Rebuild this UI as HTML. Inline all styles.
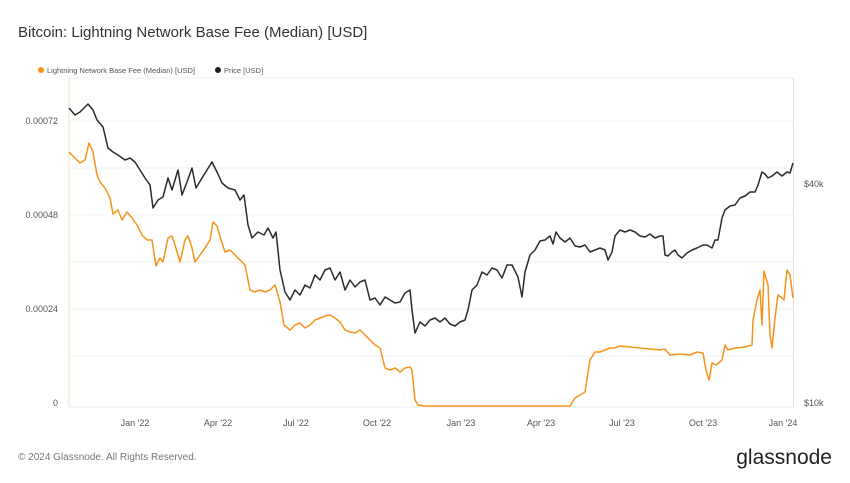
<!DOCTYPE html>
<html><head><meta charset="utf-8"><style>
body{margin:0;background:#fff;font-family:"Liberation Sans",sans-serif}
</style></head><body>
<svg width="850" height="478" xmlns="http://www.w3.org/2000/svg" font-family="Liberation Sans, sans-serif">
<rect width="850" height="478" fill="#fff"/>
<text x="18" y="37" font-size="15" fill="#333">Bitcoin: Lightning Network Base Fee (Median) [USD]</text>
<circle cx="41" cy="70" r="3" fill="#f7931a"/>
<text x="47" y="73" font-size="7.5" fill="#555">Lightning Network Base Fee (Median) [USD]</text>
<circle cx="218" cy="70" r="3" fill="#222"/>
<text x="224" y="73" font-size="7.5" fill="#555">Price [USD]</text>
<g stroke="#f0f0f0" stroke-width="1">
<line x1="69" y1="78" x2="793" y2="78"/>
<line x1="69" y1="121" x2="793" y2="121"/>
<line x1="69" y1="168" x2="793" y2="168"/>
<line x1="69" y1="215" x2="793" y2="215"/>
<line x1="69" y1="262" x2="793" y2="262"/>
<line x1="69" y1="309" x2="793" y2="309"/>
<line x1="69" y1="356" x2="793" y2="356"/>
</g>
<line x1="69" y1="78" x2="69" y2="407" stroke="#fde2c0" stroke-width="1"/>
<line x1="793.5" y1="78" x2="793.5" y2="407" stroke="#ddd" stroke-width="1"/>
<line x1="69" y1="407" x2="793" y2="407" stroke="#eee"/>
<g font-size="9" fill="#555">
<text x="58" y="124" text-anchor="end">0.00072</text>
<text x="58" y="218" text-anchor="end">0.00048</text>
<text x="58" y="312" text-anchor="end">0.00024</text>
<text x="58" y="406" text-anchor="end">0</text>
<text x="804" y="187">$40k</text>
<text x="804" y="406">$10k</text>
<g text-anchor="middle">
<text x="135" y="426">Jan '22</text><text x="218" y="426">Apr '22</text><text x="296" y="426">Jul '22</text>
<text x="377" y="426">Oct '22</text><text x="461" y="426">Jan '23</text><text x="541" y="426">Apr '23</text>
<text x="622" y="426">Jul '23</text><text x="703" y="426">Oct '23</text><text x="783" y="426">Jan '24</text>
</g></g>
<polyline fill="none" stroke="#2b2b2b" stroke-width="1.5" stroke-linejoin="round" points="69,108 75,115 80,112 88,104 93,110 97,120 103,127 108,148 113,152 118,155 125,160 130,158 135,162 140,170 145,178 150,185 153,208 158,200 163,197 168,178 172,190 178,170 182,195 187,182 192,168 196,188 202,178 207,170 212,162 217,172 222,183 228,188 235,190 240,200 244,195 248,225 252,238 258,232 264,235 268,228 273,238 276,232 280,270 285,292 290,300 295,290 300,295 305,285 310,288 315,275 320,280 325,270 330,268 335,280 340,272 345,290 350,280 355,287 360,282 365,280 370,300 375,298 380,305 385,297 390,300 395,303 400,302 405,293 410,290 412,310 415,333 420,322 425,326 430,320 435,318 440,322 445,318 450,324 455,326 460,322 465,320 468,310 472,290 477,285 482,272 487,275 492,268 497,270 502,278 507,265 512,265 518,277 522,297 525,272 530,255 535,250 540,241 545,240 550,236 553,244 556,232 560,238 565,242 570,238 575,246 580,247 585,245 590,252 595,250 600,248 605,250 608,260 612,252 615,236 620,230 625,232 630,230 635,232 640,236 645,237 650,234 655,238 660,236 663,236 665,255 668,256 672,252 675,250 678,255 682,258 687,253 692,250 697,248 703,245 707,245 712,248 715,240 718,240 722,218 725,210 730,206 735,205 740,198 745,196 750,192 755,192 758,185 762,172 765,174 768,178 772,176 777,172 782,176 787,172 790,173 793,163"/>
<polyline fill="none" stroke="#f7931a" stroke-width="1.5" stroke-linejoin="round" points="69,152 75,158 80,163 85,160 89,143 93,152 97,175 100,182 105,188 110,198 113,214 118,210 122,220 127,212 132,218 137,225 142,235 147,240 152,240 156,266 160,258 163,262 168,238 172,236 175,245 180,262 185,240 188,236 192,248 195,262 200,255 205,248 210,240 213,222 217,226 221,240 225,252 230,250 235,255 240,260 245,265 250,290 255,292 260,290 265,292 270,290 275,285 280,302 284,325 290,330 295,325 300,323 305,328 310,325 315,320 320,318 325,316 330,315 335,318 340,322 345,330 350,332 355,333 360,330 365,335 370,340 375,345 380,348 385,368 390,370 395,368 400,372 405,368 410,367 412,370 415,400 418,405 425,406 570,406 575,398 580,395 585,392 590,360 595,352 600,352 605,350 610,348 615,348 620,346 630,347 640,348 650,349 660,350 665,349 670,355 680,354 690,355 697,352 703,353 706,370 709,380 712,363 716,365 722,360 725,345 728,350 735,348 745,347 752,345 753,320 757,300 760,290 762,325 764,271 768,285 770,335 772,348 775,318 778,295 782,298 784,300 787,270 790,275 793,298"/>
<text x="18" y="460" font-size="10" fill="#777">© 2024 Glassnode. All Rights Reserved.</text>
<text x="832" y="464" font-size="21" fill="#222" text-anchor="end">glassnode</text>
</svg>
</body></html>
